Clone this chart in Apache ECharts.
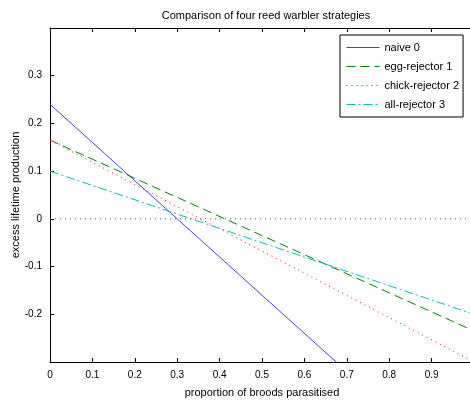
<!DOCTYPE html>
<html>
<head>
<meta charset="utf-8">
<script src="https://cdn.jsdelivr.net/npm/echarts@6/dist/echarts.min.js"></script>
<style>html,body{margin:0;padding:0;background:#fff}#c{width:470px;height:401px}</style>
</head>
<body>
<div id="c"></div>
<script>
// proportion of broods parasitised (line endpoints)
const xs = [0, 1];
const naive = [0.24, -0.56];
const eggRejector = [0.165, -0.235];
const chickRejector = [0.165, -0.30];
const allRejector = [0.10, -0.20];
const zeroLine = [0, 0];
const names = ['naive 0', 'egg-rejector 1', 'chick-rejector 2', 'all-rejector 3'];
const colors = ['#4646d2', '#008000', '#ff0000', '#00bfbf'];
const dashes = ['solid', [9, 5], [1, 4], [9, 3, 2, 3]];

const pts = ys => xs.map((x, i) => [x, ys[i]]);
const font = 'Liberation Sans, Arial, sans-serif';

const legendData = names.map((n, i) => i === 0
  ? { name: n, icon: 'path://M0,0L33,0L33,1L0,1Z',
      itemStyle: { color: colors[i], opacity: 1, borderWidth: 0 },
      lineStyle: { opacity: 0 } }
  : { name: n, lineStyle: { color: colors[i], width: 1, type: dashes[i] } });

const chart = echarts.init(document.getElementById('c'));
chart.setOption({
  animation: false,
  backgroundColor: '#fff',
  title: {
    text: 'Comparison of four reed warbler strategies',
    left: 261, top: 5, textAlign: 'center',
    textStyle: { fontFamily: font, fontSize: 11, fontWeight: 'normal', color: '#000' }
  },
  legend: {
    data: legendData,
    orient: 'vertical',
    left: 340, top: 35,
    padding: [7, 4, 7, 6],
    itemWidth: 33, itemHeight: 10, itemGap: 8,
    borderColor: '#000', borderWidth: 1, backgroundColor: '#fff',
    itemStyle: { opacity: 0 },
    textStyle: { fontFamily: font, fontSize: 11, color: '#000' }
  },
  grid: { left: 50, right: -4, top: 28, bottom: 39, outerBoundsMode: 'none', containLabel: false },
  xAxis: [{
    type: 'value', min: 0, max: 1, interval: 0.1,
    name: 'proportion of broods parasitised', nameLocation: 'middle', nameGap: 25,
    nameMoveOverlap: false,
    nameTextStyle: { fontFamily: font, fontSize: 11, color: '#000' },
    axisLine: { onZero: false, lineStyle: { color: '#000' } },
    axisTick: { inside: true, length: 4, lineStyle: { color: '#000' } },
    axisLabel: { fontFamily: font, fontSize: 10, color: '#000', margin: 8 },
    splitLine: { show: false }
  }, {
    type: 'value', min: 0, max: 1, interval: 0.1, position: 'top',
    axisLine: { show: true, onZero: false, lineStyle: { color: '#000' } },
    axisTick: { inside: true, length: 4, lineStyle: { color: '#000' } },
    axisLabel: { show: false },
    splitLine: { show: false }
  }],
  yAxis: [{
    type: 'value', min: -0.3, max: 0.4, interval: 0.1,
    name: 'excess lifetime production', nameLocation: 'middle', nameGap: 29,
    nameMoveOverlap: false,
    nameTextStyle: { fontFamily: font, fontSize: 11, color: '#000' },
    axisLine: { show: true, onZero: false, lineStyle: { color: '#000' } },
    axisTick: { show: true, inside: true, length: 4, lineStyle: { color: '#000' } },
    axisLabel: { fontFamily: font, fontSize: 10, color: '#000', margin: 8, showMinLabel: false, showMaxLabel: false },
    splitLine: { show: false }
  }, {
    type: 'value', min: -0.3, max: 0.4, interval: 0.1, position: 'right',
    axisLine: { show: true, onZero: false, lineStyle: { color: '#000' } },
    axisTick: { show: true, inside: true, length: 4, lineStyle: { color: '#000' } },
    axisLabel: { show: false },
    splitLine: { show: false }
  }],
  series: [
    { name: '', type: 'line', data: pts(zeroLine), symbol: 'none', silent: true,
      lineStyle: { color: '#4646d2', width: 1, type: [1, 4] }, itemStyle: { color: '#4646d2' } },
    { name: names[0], type: 'line', data: pts(naive), symbol: 'none',
      lineStyle: { color: colors[0], width: 1, type: dashes[0] }, itemStyle: { color: colors[0] } },
    { name: names[1], type: 'line', data: pts(eggRejector), symbol: 'none',
      lineStyle: { color: colors[1], width: 1, type: dashes[1] }, itemStyle: { color: colors[1] } },
    { name: names[2], type: 'line', data: pts(chickRejector), symbol: 'none',
      lineStyle: { color: colors[2], width: 1, type: dashes[2] }, itemStyle: { color: colors[2] } },
    { name: names[3], type: 'line', data: pts(allRejector), symbol: 'none',
      lineStyle: { color: colors[3], width: 1, type: dashes[3] }, itemStyle: { color: colors[3] } }
  ]
});
</script>
</body>
</html>
